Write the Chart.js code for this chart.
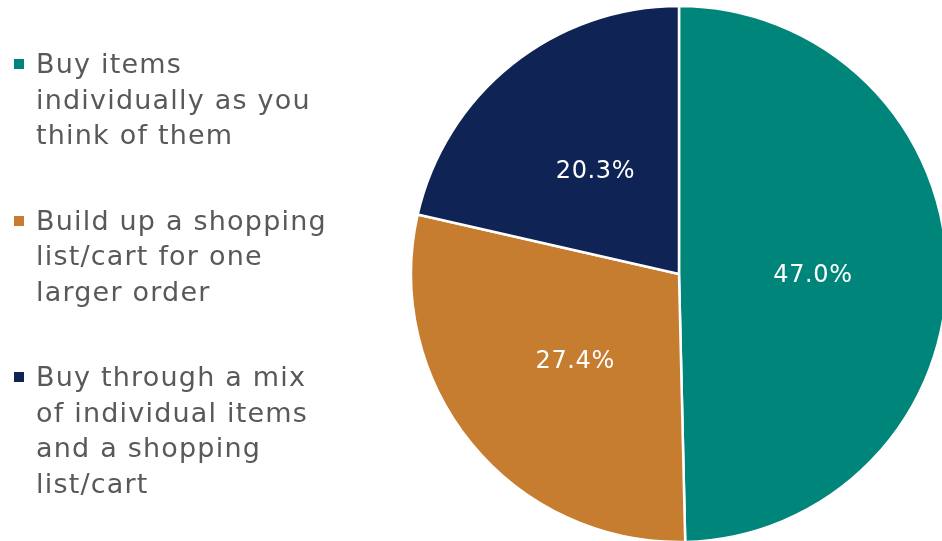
<!DOCTYPE html>
<html>
<head>
<meta charset="utf-8">
<script src="https://cdn.jsdelivr.net/npm/chart.js@4"></script>
<style>
  html, body { margin: 0; padding: 0; background: #fff; }
  #wrap { position: relative; width: 942px; height: 541px; overflow: hidden; }
  #myChart { position: absolute; left: 0; top: 0; }
  #legend { position: absolute; left: 14px; top: 46px; display: flex; flex-direction: column; gap: 50px;
    font-family: "DejaVu Sans", Verdana, sans-serif; font-size: 27px; line-height: 35.5px; color: #595959;
    letter-spacing: 1.2px; white-space: nowrap; }
  .item { position: relative; padding-left: 22px; }
  .box { position: absolute; left: 0; top: 13px; width: 10px; height: 10px; }
</style>
</head>
<body>
<div id="wrap">
  <canvas id="myChart" width="942" height="541"></canvas>
  <div id="legend"></div>
</div>
<script>
// legend labels, already broken into lines like the original
const categories = [
  ['Buy items', 'individually as you', 'think of them'],
  ['Build up a shopping', 'list/cart for one', 'larger order'],
  ['Buy through a mix', 'of individual items', 'and a shopping', 'list/cart']
];
const shares = [47.0, 27.4, 20.3];
const colors = ['#00857A', '#C67D30', '#0F2454'];

// simple html legend
const legend = document.getElementById('legend');
categories.forEach((lines, i) => {
  const item = document.createElement('div');
  item.className = 'item';
  const box = document.createElement('span');
  box.className = 'box';
  box.style.background = colors[i];
  item.appendChild(box);
  lines.forEach((line, j) => {
    if (j > 0) item.appendChild(document.createElement('br'));
    item.appendChild(document.createTextNode(line));
  });
  legend.appendChild(item);
});

// draw the percent in the middle of each slice
const sliceLabels = {
  id: 'sliceLabels',
  afterDatasetsDraw(chart) {
    const ctx = chart.ctx;
    const meta = chart.getDatasetMeta(0);
    ctx.save();
    ctx.fillStyle = '#fff';
    ctx.font = '24px "DejaVu Sans", Verdana, sans-serif';
    ctx.letterSpacing = '0.6px';
    ctx.textAlign = 'center';
    ctx.textBaseline = 'middle';
    meta.data.forEach((arc, i) => {
      const p = arc.getCenterPoint();
      ctx.fillText(shares[i].toFixed(1) + '%', p.x, p.y + 3);
    });
    ctx.restore();
  }
};

const ctx = document.getElementById('myChart').getContext('2d');
const chart = new Chart(ctx, {
  type: 'pie',
  data: {
    labels: categories.map(l => l.join(' ')),
    datasets: [{
      data: shares,
      backgroundColor: colors,
      borderColor: '#fff',
      borderWidth: 2.5
    }]
  },
  options: {
    responsive: false,
    animation: false,
    radius: 268,
    layout: { padding: { left: 416, top: 7 } },
    plugins: {
      legend: { display: false },
      tooltip: { enabled: false }
    }
  },
  plugins: [sliceLabels]
});
</script>
</body>
</html>
